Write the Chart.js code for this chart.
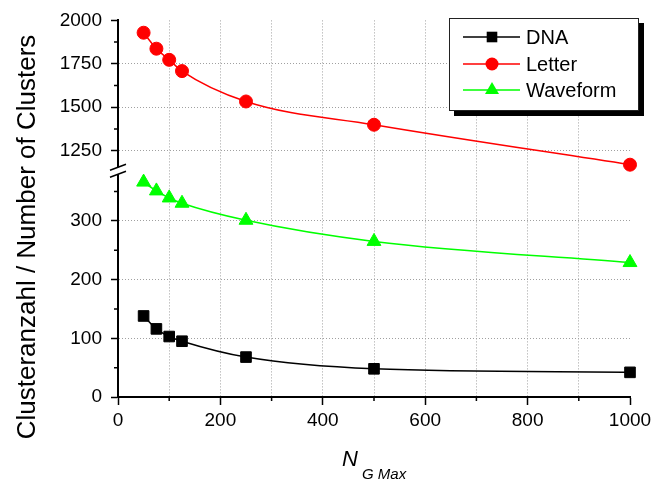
<!DOCTYPE html>
<html>
<head>
<meta charset="utf-8">
<script src="https://cdn.jsdelivr.net/npm/chart.js@4.4.1/dist/chart.umd.min.js"></script>
<style>
  html, body { margin: 0; padding: 0; background: #fff; }
</style>
</head>
<body>
<canvas id="clusterChart" width="653" height="482"></canvas>
<script>
// Werte
const nGMax = [50, 75, 100, 125, 250, 500, 1000];
const dnaClusters = [138, 116, 103, 95, 68, 48, 42];
const letterClusters = [1929, 1837, 1773, 1708, 1533, 1399, 1169];
const waveformClusters = [366, 351, 339, 330, 301, 265, 229];

const xTicks = [0, 200, 400, 600, 800, 1000];
const xMinorTicks = [100, 300, 500, 700, 900];
const lowerTicks = [0, 100, 200, 300];
const lowerMinorTicks = [50, 150, 250, 350];
const upperTicks = [1250, 1500, 1750, 2000];
const upperMinorTicks = [1375, 1625, 1875];

const FONT = "'Liberation Sans', Arial, sans-serif";
const RED = "#ff0000";
const GREEN = "#00ff00";
const BLACK = "#000000";
const GRID = "#a0a0a0";
const NONE = "rgba(0,0,0,0)";

function points(ys) {
    return nGMax.map((x, i) => ({ x: x, y: ys[i] }));
}

function drawMarker(ctx, style, x, y, color) {
    ctx.fillStyle = color;
    ctx.beginPath();
    if (style === "rect") {
        ctx.rect(x - 5.3, y - 5.3, 10.6, 10.6);
    } else if (style === "circle") {
        ctx.arc(x, y, 6.5, 0, Math.PI * 2);
    } else {
        ctx.moveTo(x, y - 8);
        ctx.lineTo(x + 7, y + 4);
        ctx.lineTo(x - 7, y + 4);
        ctx.closePath();
    }
    ctx.fill();
}

// Legende, Achsentitel, Achsenbruch und kleine Striche
const extras = {
    id: "extras",
    afterDraw(chart) {
        const ctx = chart.ctx;
        const area = chart.chartArea;
        const sx = chart.scales.x;
        const yLow = chart.scales.yLow;
        const yHigh = chart.scales.yHigh;

        ctx.save();
        ctx.strokeStyle = BLACK;
        ctx.lineWidth = 1.5;
        ctx.beginPath();
        xMinorTicks.forEach(v => {
            const px = sx.getPixelForValue(v);
            ctx.moveTo(px, area.bottom);
            ctx.lineTo(px, area.bottom + 4);
        });
        lowerMinorTicks.forEach(v => {
            const py = yLow.getPixelForValue(v);
            ctx.moveTo(area.left, py);
            ctx.lineTo(area.left - 4, py);
        });
        upperMinorTicks.forEach(v => {
            const py = yHigh.getPixelForValue(v);
            ctx.moveTo(area.left, py);
            ctx.lineTo(area.left - 4, py);
        });
        ctx.stroke();

        // Achsenbruch
        const bx = area.left;
        const by = yHigh.bottom;
        ctx.fillStyle = "#fff";
        ctx.fillRect(bx - 3, by + 1, 6, 7);
        ctx.strokeStyle = BLACK;
        ctx.lineWidth = 1.5;
        ctx.beginPath();
        ctx.moveTo(bx - 8, by + 4);
        ctx.lineTo(bx + 8, by - 2);
        ctx.moveTo(bx - 8, by + 11);
        ctx.lineTo(bx + 8, by + 5);
        ctx.stroke();

        // Legende
        const lx = 449, ly = 18, lw = 190, lh = 93;
        ctx.fillStyle = BLACK;
        ctx.fillRect(lx + 5, ly + 5, lw, lh);
        ctx.fillStyle = "#fff";
        ctx.fillRect(lx, ly, lw, lh);
        ctx.strokeStyle = "#222";
        ctx.lineWidth = 1;
        ctx.strokeRect(lx + 0.5, ly + 0.5, lw - 1, lh - 1);

        const entries = [
            { label: "DNA", color: BLACK, style: "rect", y: 37 },
            { label: "Letter", color: RED, style: "circle", y: 64 },
            { label: "Waveform", color: GREEN, style: "triangle", y: 90 }
        ];
        ctx.font = "20px " + FONT;
        ctx.textBaseline = "middle";
        ctx.textAlign = "left";
        entries.forEach(e => {
            ctx.strokeStyle = e.color;
            ctx.lineWidth = 1.5;
            ctx.beginPath();
            ctx.moveTo(463, e.y);
            ctx.lineTo(520, e.y);
            ctx.stroke();
            drawMarker(ctx, e.style, 492, e.y, e.color);
            ctx.fillStyle = BLACK;
            ctx.fillText(e.label, 526, e.y + 1);
        });

        // Achsentitel
        ctx.fillStyle = BLACK;
        ctx.textBaseline = "alphabetic";
        ctx.save();
        ctx.translate(35, 237);
        ctx.rotate(-Math.PI / 2);
        ctx.textAlign = "center";
        ctx.font = "26px " + FONT;
        ctx.fillText("Clusteranzahl / Number of Clusters", 0, 0);
        ctx.restore();

        ctx.textAlign = "left";
        ctx.font = "italic 22px " + FONT;
        ctx.fillText("N", 342, 466);
        ctx.font = "italic 15px " + FONT;
        ctx.fillText("G Max", 362, 479);
        ctx.restore();
    }
};

const ctx = document.getElementById("clusterChart").getContext("2d");
new Chart(ctx, {
    type: "line",
    data: {
        datasets: [{
            label: "DNA",
            data: points(dnaClusters),
            yAxisID: "yLow",
            borderColor: BLACK,
            backgroundColor: BLACK,
            pointStyle: "rect",
            pointRadius: 7.5,
            clip: false
        }, {
            label: "Letter",
            data: points(letterClusters),
            yAxisID: "yHigh",
            borderColor: RED,
            backgroundColor: RED,
            pointStyle: "circle",
            pointRadius: 6.5,
            clip: false
        }, {
            label: "Waveform",
            data: points(waveformClusters),
            yAxisID: "yLow",
            borderColor: GREEN,
            backgroundColor: GREEN,
            pointStyle: "triangle",
            pointRadius: 8,
            clip: false
        }]
    },
    options: {
        responsive: false,
        animation: false,
        layout: { padding: { top: 20, right: 23, left: 0, bottom: 0 } },
        elements: {
            line: { borderWidth: 1.5, cubicInterpolationMode: "monotone", fill: false },
            point: { borderWidth: 1, hoverRadius: 7 }
        },
        plugins: {
            legend: { display: false },
            tooltip: { enabled: false }
        },
        scales: {
            x: {
                type: "linear",
                min: 0,
                max: 1000,
                ticks: {
                    stepSize: 100,
                    autoSkip: false,
                    maxRotation: 0,
                    padding: 4,
                    color: BLACK,
                    font: { family: FONT, size: 19 },
                    callback: v => xTicks.includes(v) ? String(v) : ""
                },
                grid: {
                    color: c => (c.tick && (c.tick.value === 0 || c.tick.value === 1000)) ? NONE : GRID,
                    lineWidth: 1,
                    tickLength: 8,
                    tickWidth: 1.5,
                    tickBorderDash: [],
                    tickColor: c => (c.tick && xTicks.includes(c.tick.value)) ? BLACK : NONE
                },
                border: { color: BLACK, width: 2, dash: [1, 2] },
                afterFit: s => { s.height = 85; s.paddingLeft = 0; s.paddingRight = 0; }
            },
            yLow: {
                type: "linear",
                position: "left",
                stack: "clusters",
                stackWeight: 231,
                min: 0,
                max: 393,
                ticks: {
                    stepSize: 50,
                    includeBounds: false,
                    padding: 9,
                    color: BLACK,
                    font: { family: FONT, size: 19 },
                    callback: v => lowerTicks.includes(v) ? String(v) : ""
                },
                grid: {
                    color: c => (c.tick && lowerTicks.includes(c.tick.value) && c.tick.value !== 0) ? GRID : NONE,
                    lineWidth: 1,
                    tickLength: 7,
                    tickWidth: 1.5,
                    tickBorderDash: [],
                    tickColor: c => (c.tick && lowerTicks.includes(c.tick.value)) ? BLACK : NONE
                },
                border: { color: BLACK, width: 2, dash: [1, 2] },
                afterFit: s => { s.width = 118; }
            },
            yHigh: {
                type: "linear",
                position: "left",
                stack: "clusters",
                stackWeight: 146,
                min: 1160,
                max: 2000,
                ticks: {
                    stepSize: 125,
                    includeBounds: false,
                    padding: 9,
                    color: BLACK,
                    font: { family: FONT, size: 19 },
                    callback: v => upperTicks.includes(v) ? String(v) : ""
                },
                grid: {
                    color: c => (c.tick && upperTicks.includes(c.tick.value) && c.tick.value !== 2000) ? GRID : NONE,
                    lineWidth: 1,
                    tickLength: 7,
                    tickWidth: 1.5,
                    tickBorderDash: [],
                    tickColor: c => (c.tick && upperTicks.includes(c.tick.value)) ? BLACK : NONE
                },
                border: { color: BLACK, width: 2, dash: [1, 2] },
                afterFit: s => { s.width = 118; }
            }
        }
    },
    plugins: [extras]
});
</script>
</body>
</html>
